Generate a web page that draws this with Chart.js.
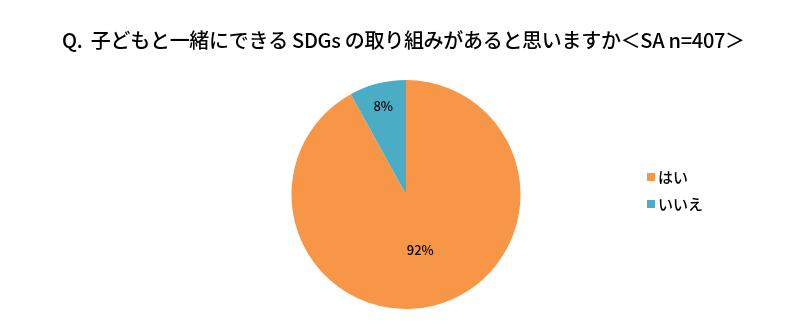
<!DOCTYPE html>
<html>
<head>
<meta charset="utf-8">
<script src="https://cdn.jsdelivr.net/npm/chart.js@4"></script>
<style>
  html, body { margin: 0; padding: 0; background: #fff; }
  #wrap { width: 802px; height: 333px; }
</style>
</head>
<body>
<div id="wrap"><canvas id="chart" width="802" height="333"></canvas></div>
<script>
const categories = ['はい', 'いいえ'];
const values = [92, 8];
const colors = ['#F79646', '#4BACC6'];
const labelRadius = [0.5, 0.8];
const titleText = 'Q.  子どもと一緒にできる SDGs の取り組みがあると思いますか＜SA n=407＞';

const FONT = '"Noto Sans CJK JP", "Noto Sans", sans-serif';

// title, legend and percentage labels drawn by hand
const extras = {
  id: 'extras',
  afterDraw(chart) {
    const ctx = chart.ctx;
    const meta = chart.getDatasetMeta(0);
    ctx.save();

    // title stretched to the reference width
    ctx.font = '500 20px ' + FONT;
    ctx.fillStyle = '#000';
    ctx.textBaseline = 'middle';
    ctx.textAlign = 'left';
    const natural = ctx.measureText(titleText).width;
    const n = [...titleText].length;
    ctx.letterSpacing = ((683 - natural) / (n - 1)).toFixed(2) + 'px';
    ctx.fillText(titleText, 62, 40);
    ctx.letterSpacing = '0px';

    // legend
    ctx.font = '500 15px ' + FONT;
    categories.forEach((c, i) => {
      const y = 177 + i * 27;
      ctx.fillStyle = colors[i];
      ctx.fillRect(647, y - 4, 8, 8);
      ctx.fillStyle = '#000';
      ctx.fillText(c, 658, y);
    });

    // slice labels
    ctx.font = '500 13px ' + FONT;
    ctx.textAlign = 'center';
    meta.data.forEach((arc, i) => {
      const p = arc.getProps(['x', 'y', 'startAngle', 'endAngle', 'outerRadius'], true);
      const mid = (p.startAngle + p.endAngle) / 2;
      const r = p.outerRadius * labelRadius[i];
      ctx.fillText(values[i] + '%', p.x + Math.cos(mid) * r, p.y + Math.sin(mid) * r);
    });
    ctx.restore();
  }
};

new Chart(document.getElementById('chart').getContext('2d'), {
  type: 'pie',
  data: {
    labels: categories,
    datasets: [{
      data: values,
      backgroundColor: colors,
      borderWidth: 0
    }]
  },
  options: {
    responsive: false,
    animation: false,
    layout: { padding: { left: 200, right: 190, top: 80, bottom: 24 } },
    plugins: {
      title: { display: false },
      legend: { display: false },
      tooltip: { enabled: false }
    }
  },
  plugins: [extras]
});
</script>
</body>
</html>
